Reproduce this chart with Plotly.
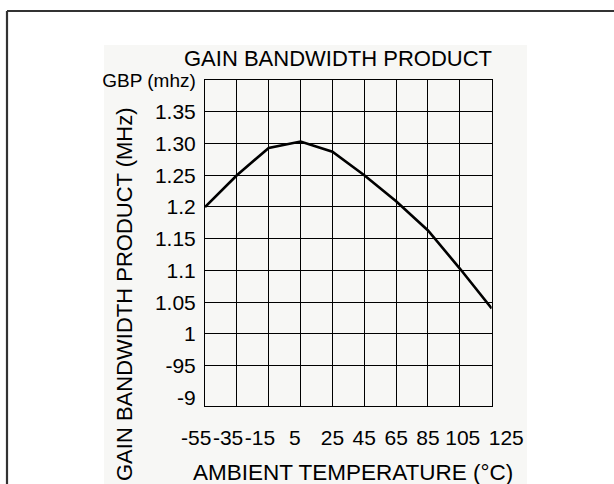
import plotly.graph_objects as go

# ---- data ----
temps_c = [-55, -35, -15, 5, 25, 45, 65, 85, 105, 125]
gbp_mhz = [1.200, 1.250, 1.293, 1.303, 1.287, 1.250, 1.209, 1.163, 1.103, 1.040]

x_tick_vals = [-55, -35, -15, 5, 25, 45, 65, 85, 105, 125]
x_tick_text = ["-55", "-35", "-15", "5", "25", "45", "65", "85", "105", "125"]

y_grid_vals = [1.35, 1.30, 1.25, 1.20, 1.15, 1.10, 1.05, 1.00, 0.95]
y_label_vals = [1.40, 1.35, 1.30, 1.25, 1.20, 1.15, 1.10, 1.05, 1.00, 0.95, 0.90]
y_label_text = ["GBP (mhz)", "1.35", "1.30", "1.25", "1.2", "1.15", "1.1",
                "1.05", "1", "-95", "-9"]

chart_title = "GAIN BANDWIDTH PRODUCT"
x_title = "AMBIENT TEMPERATURE (°C)"
y_title = "GAIN BANDWIDTH PRODUCT (MHz)"

# ---- styling ----
FONT = "Liberation Sans, Arial, Helvetica, sans-serif"
W, H = 614, 484
px_l, px_r, px_t, px_b = 205, 491.7, 80, 405.7
nb = "\u00a0"
# the typed labels in the source sit a little off their gridlines
pad_x = {"-55": (0, 3), "-35": (0, 3), "-15": (0, 3), "5": (0, 2), "105": (1, 0), "125": (5, 0)}
x_text_disp = [nb * pad_x.get(t, (0, 0))[0] + t + nb * pad_x.get(t, (0, 0))[1] for t in x_tick_text]
y_text_disp = [f"<span style='font-size:19px'>{t}</span>" if t.startswith("GBP") else t
               for t in y_label_text]

fig = go.Figure()
fig.add_trace(go.Scatter(x=temps_c, y=gbp_mhz, mode="lines",
                         line=dict(color="black", width=2.6), showlegend=False,
                         hoverinfo="skip"))
# invisible trace to activate overlay axes
fig.add_trace(go.Scatter(x=[temps_c[0]], y=[gbp_mhz[0]], xaxis="x2", yaxis="y2",
                         mode="markers", marker=dict(opacity=0), showlegend=False,
                         hoverinfo="skip"))

xdom = [px_l / W, px_r / W]
ydom = [1 - px_b / H, 1 - px_t / H]
xr = [-55, 125]
yr = [0.887, 1.40]

fig.update_layout(
    template="none",
    width=W, height=H,
    margin=dict(l=0, r=0, t=0, b=0, pad=0),
    paper_bgcolor="white",
    plot_bgcolor="rgba(0,0,0,0)",
    font=dict(family=FONT, color="black", size=21),
    xaxis=dict(domain=xdom, range=xr, tickvals=x_tick_vals, showticklabels=False,
               showgrid=True, gridcolor="black", gridwidth=1.2, zeroline=False,
               showline=True, linecolor="black", linewidth=1.4, mirror=True, ticks="",
               automargin=False),
    yaxis=dict(domain=ydom, range=yr, tickvals=y_grid_vals, showticklabels=False,
               showgrid=True, gridcolor="black", gridwidth=1.2, zeroline=False,
               showline=True, linecolor="black", linewidth=1.4, mirror=True, ticks="",
               automargin=False),
    xaxis2=dict(domain=xdom, range=xr, overlaying="x", anchor="y2", side="bottom",
                tickvals=x_tick_vals, ticktext=x_text_disp, showgrid=False,
                zeroline=False, showline=False, ticks="outside", ticklen=13,
                tickcolor="rgba(0,0,0,0)", tickfont=dict(size=21), tickangle=0,
                automargin=False),
    yaxis2=dict(domain=ydom, range=yr, overlaying="y", anchor="x2", side="left",
                tickvals=y_label_vals, ticktext=y_text_disp, showgrid=False,
                zeroline=False, showline=False, ticks="outside", ticklen=4,
                tickcolor="rgba(0,0,0,0)", tickfont=dict(size=21), tickangle=0,
                automargin=False),
    shapes=[
        # light scanned panel behind chart
        dict(type="rect", xref="paper", yref="paper", x0=104 / W, x1=527 / W,
             y0=-0.01, y1=1 - 45 / H, fillcolor="#f7f7f5", line=dict(width=0),
             layer="below"),
        # outer frame (left and top edges)
        dict(type="line", xref="paper", yref="paper", x0=7 / W, x1=7 / W,
             y0=-0.01, y1=1 - 11 / H, line=dict(color="#333333", width=2.2)),
        dict(type="line", xref="paper", yref="paper", x0=7 / W, x1=1.01,
             y0=1 - 11 / H, y1=1 - 11 / H, line=dict(color="#333333", width=2.2)),
    ],
    annotations=[
        dict(text=chart_title, xref="paper", yref="paper", x=338 / W, y=1 - 59 / H,
             showarrow=False, font=dict(size=22), xanchor="center", yanchor="middle"),
        dict(text=x_title, xref="paper", yref="paper", x=353 / W, y=1 - 472 / H,
             showarrow=False, font=dict(size=22.5), xanchor="center", yanchor="middle"),
        dict(text=y_title, xref="paper", yref="paper", x=124 / W, y=1 - 294 / H,
             showarrow=False, font=dict(size=22), textangle=-90,
             xanchor="center", yanchor="middle"),
    ],
)

fig.write_html("out.html",
               config={"displayModeBar": False},
               post_script="document.body.style.margin='0';document.body.style.overflow='hidden';")
